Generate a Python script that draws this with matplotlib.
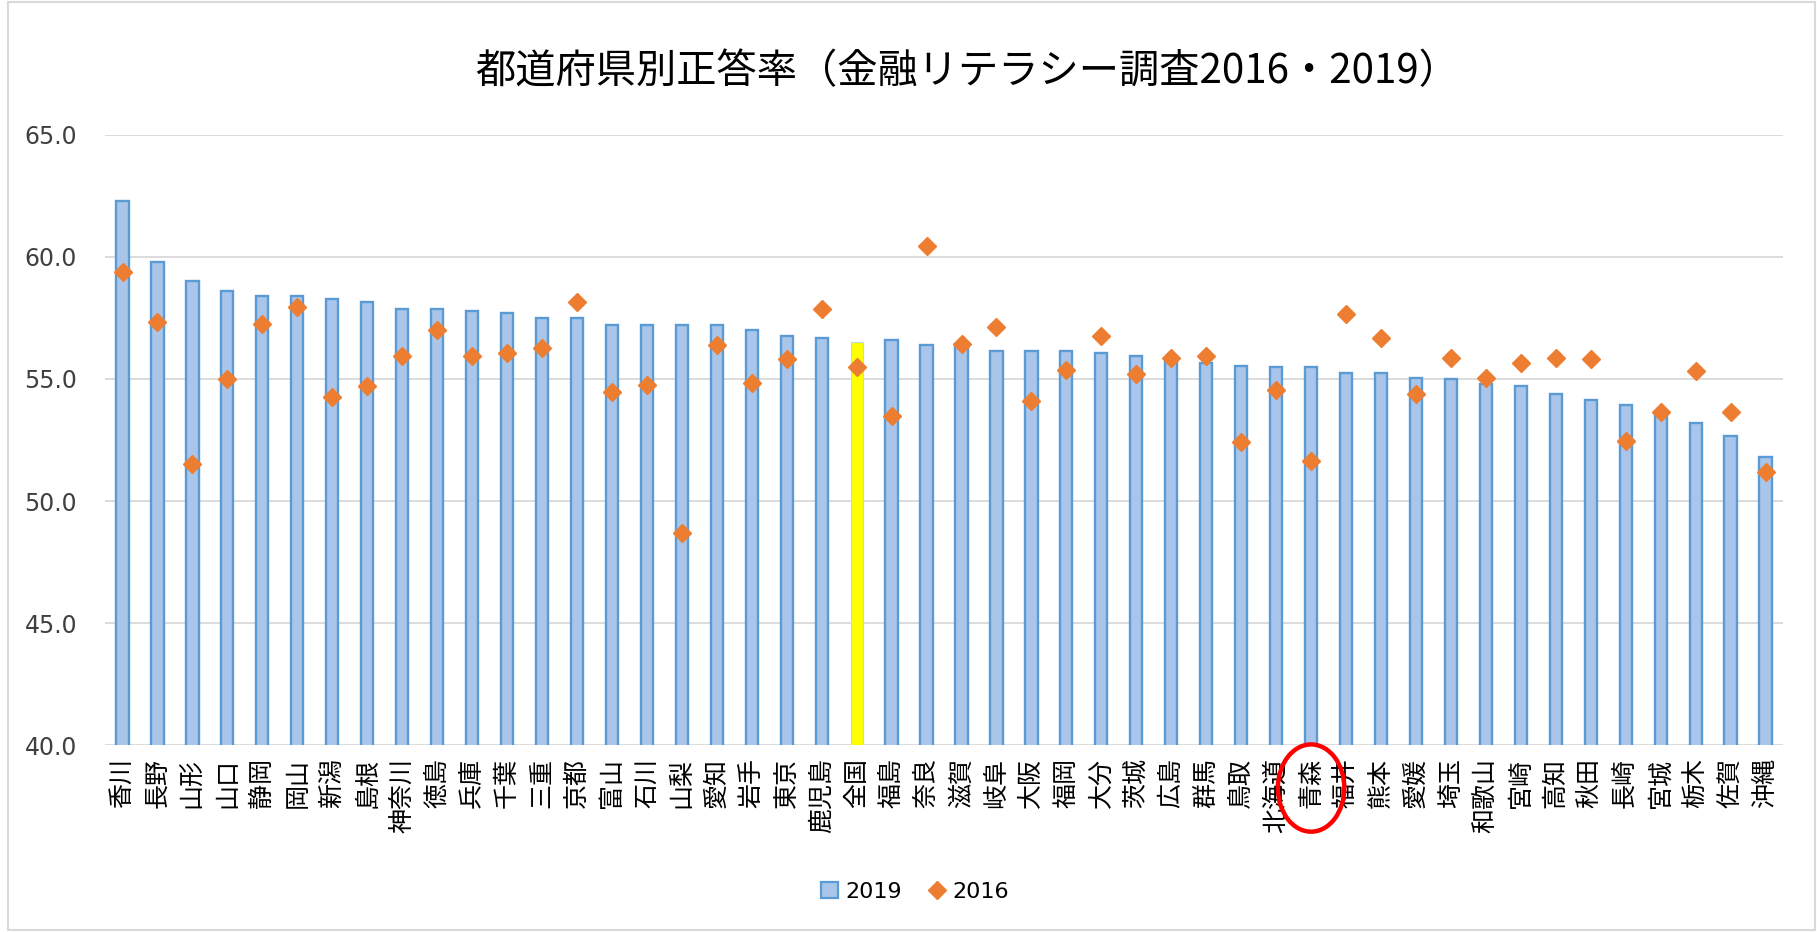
import numpy as np
import matplotlib
matplotlib.use("Agg")
import matplotlib.pyplot as plt
import matplotlib.patches as mpatches
from matplotlib.lines import Line2D
from matplotlib.transforms import blended_transform_factory

plt.rcParams["font.family"] = ["Noto Sans CJK JP", "DejaVu Sans"]

TITLE = "都道府県別正答率（金融リテラシー調査2016・2019）"
prefs = ["香川", "長野", "山形", "山口", "静岡", "岡山", "新潟", "島根", "神奈川", "徳島",
         "兵庫", "千葉", "三重", "京都", "富山", "石川", "山梨", "愛知", "岩手", "東京",
         "鹿児島", "全国", "福島", "奈良", "滋賀", "岐阜", "大阪", "福岡", "大分", "茨城",
         "広島", "群馬", "鳥取", "北海道", "青森", "福井", "熊本", "愛媛", "埼玉", "和歌山",
         "宮崎", "高知", "秋田", "長崎", "宮城", "栃木", "佐賀", "沖縄"]
score_2019 = [62.3, 59.8, 59.0, 58.6, 58.4, 58.4, 58.27, 58.15, 57.85, 57.85,
              57.8, 57.7, 57.5, 57.5, 57.2, 57.2, 57.2, 57.2, 57.0, 56.75,
              56.7, 56.52, 56.6, 56.4, 56.35, 56.15, 56.15, 56.15, 56.07, 55.95,
              55.75, 55.65, 55.52, 55.48, 55.48, 55.25, 55.25, 55.05, 55.0, 54.78,
              54.7, 54.4, 54.15, 53.95, 53.65, 53.18, 52.68, 51.8]
score_2016 = [59.4, 57.35, 51.5, 55.0, 57.25, 57.95, 54.25, 54.7, 55.95, 57.0,
              55.95, 56.05, 56.25, 58.15, 54.45, 54.75, 48.7, 56.4, 54.85, 55.8,
              57.85, 55.5, 53.5, 60.45, 56.45, 57.15, 54.1, 55.35, 56.75, 55.2,
              55.85, 55.95, 52.42, 54.55, 51.63, 57.66, 56.7, 54.4, 55.85, 55.05,
              55.65, 55.85, 55.8, 52.45, 53.65, 55.33, 53.63, 51.2]
yticks = [40, 45, 50, 55, 60, 65]
HIGHLIGHT = "全国"
CIRCLED = "青森"

BAR_FACE = "#A9C6EA"
BAR_EDGE = "#5B9BD5"
ORANGE = "#ED7D31"

fig = plt.figure(figsize=(18.17, 9.32), dpi=100)
ax = fig.add_axes([0.0578, 0.2006, 0.9235, 0.6546])

x = np.arange(len(prefs))
faces = ["#FFFF00" if p == HIGHLIGHT else BAR_FACE for p in prefs]
edges = ["#BDD7EE" if p == HIGHLIGHT else BAR_EDGE for p in prefs]
lws = [0.8 if p == HIGHLIGHT else 1.7 for p in prefs]
ax.bar(x, score_2019, width=0.35, color=faces, edgecolor=edges, linewidth=lws, zorder=2)
ax.plot(x, score_2016, ls="none", marker="D", ms=9, color=ORANGE, mec=ORANGE, zorder=3, clip_on=False)

ax.set_xlim(-0.5, len(prefs) - 0.5)
ax.set_ylim(40, 65)
ax.set_yticks(yticks)
ax.set_yticklabels([f"{v:.1f}" for v in yticks], fontsize=17, color="#404040", family="DejaVu Sans")
ax.set_xticks(x)
ax.set_xticklabels(prefs, rotation=90, fontsize=18, color="black")
ax.tick_params(axis="both", length=0)
ax.tick_params(axis="x", pad=9)
ax.tick_params(axis="y", pad=20)
ax.yaxis.grid(True, color="#D9D9D9", lw=1.3, zorder=0)
ax.set_axisbelow(True)
for s in ax.spines.values():
    s.set_visible(False)

fig.text(0.532, 0.9227, TITLE, ha="center", va="center", fontsize=29, color="black")

# red circle around one label
tr = blended_transform_factory(ax.transData, ax.transAxes)
ax.add_patch(mpatches.Ellipse((prefs.index(CIRCLED), -0.0705), 1.9, 0.143, transform=tr,
                              fill=False, edgecolor="#FF0000", lw=3.2, clip_on=False, zorder=5))

handles = [mpatches.Patch(facecolor=BAR_FACE, edgecolor=BAR_EDGE, lw=1.6, label="2019"),
           Line2D([], [], ls="none", marker="D", ms=9, color=ORANGE, label="2016")]
fig.legend(handles=handles, loc="center", bbox_to_anchor=(0.5036, 0.0429), ncol=2, frameon=False,
           handlelength=0.8, handletextpad=0.3, columnspacing=1.2,
           prop={"family": "DejaVu Sans", "size": 16})

fig.add_artist(mpatches.Rectangle((0.0044, 0.002), 0.9945, 0.996, transform=fig.transFigure,
                                  fill=False, edgecolor="#D9D9D9", lw=1.5))

fig.savefig("out.png", dpi=100, facecolor="white")
